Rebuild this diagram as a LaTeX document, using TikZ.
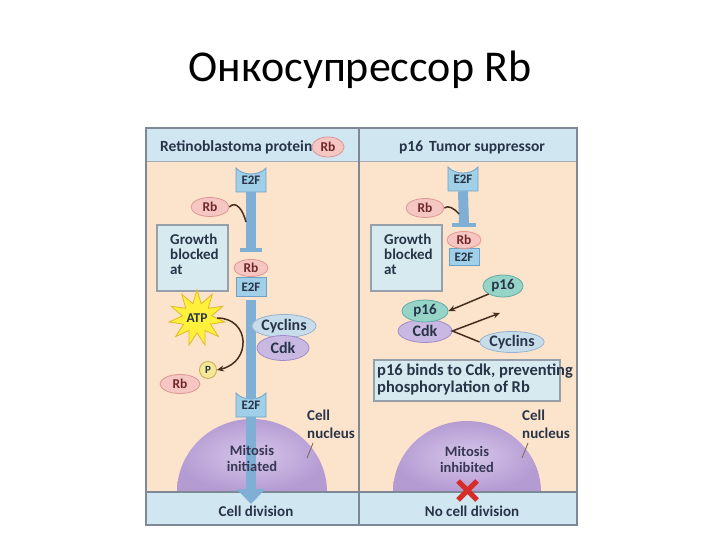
\documentclass[tikz,border=0pt]{standalone}
\usepackage{fontspec}
\setmainfont{Carlito}
\usetikzlibrary{shapes.geometric,arrows.meta,calc}

\definecolor{peach}{RGB}{252,228,204}
\definecolor{bandc}{RGB}{208,230,241}
\definecolor{framec}{RGB}{125,138,150}
\definecolor{e2ffill}{RGB}{160,207,232}
\definecolor{e2fdraw}{RGB}{110,160,200}
\definecolor{barc}{RGB}{128,175,214}
\definecolor{rbfill}{RGB}{246,198,194}
\definecolor{rbdraw}{RGB}{222,150,148}
\definecolor{rbtxt}{RGB}{110,40,45}
\definecolor{cycfill}{RGB}{200,221,236}
\definecolor{cycdraw}{RGB}{150,178,205}
\definecolor{cdkfill}{RGB}{200,184,226}
\definecolor{cdkdraw}{RGB}{160,140,200}
\definecolor{p16fill}{RGB}{150,212,200}
\definecolor{p16draw}{RGB}{100,172,165}
\definecolor{gfill}{RGB}{214,234,239}
\definecolor{gdraw}{RGB}{150,160,170}
\definecolor{txt}{RGB}{40,52,72}
\definecolor{mtxt}{RGB}{55,55,85}
\definecolor{connc}{RGB}{70,45,30}
\definecolor{nucin}{RGB}{214,198,234}
\definecolor{nucout}{RGB}{180,155,210}
\definecolor{atpfill}{RGB}{255,240,60}
\definecolor{atpdraw}{RGB}{225,185,40}
\definecolor{pfill}{RGB}{245,232,150}
\definecolor{pdraw}{RGB}{200,170,80}
\definecolor{redx}{RGB}{215,45,40}

\newcommand\myfs[2]{\fontsize{#1}{#2}\selectfont}
% E2F cup: name, x, y (text centre)
\newcommand\Ecup[3]{%
  \path[fill=e2ffill, draw=e2fdraw, line width=0.8pt]
    (#2-15,#3-14) -- (#2-15,#3+10) -- (#2+15,#3+10) -- (#2+15,#3-14)
    .. controls (#2+8,#3-6) and (#2-8,#3-6) .. (#2-15,#3-14) -- cycle;
  \node[e2ftxt, minimum width=30, minimum height=24] (#1) at (#2,#3-2) {\raisebox{-2pt}{E2F}};}

\begin{document}
\begin{tikzpicture}[x=1pt,y=-1pt,
  lbl/.style={font=\bfseries\myfs{15}{15}, text=txt, inner sep=0pt},
  e2ftxt/.style={inner sep=0pt, font=\bfseries\myfs{13}{13}, text=txt},
  e2frect/.style={rectangle, fill=e2ffill, draw=e2fdraw, line width=0.8pt, inner sep=0pt, font=\bfseries\myfs{13}{13}, text=txt},
  rbell/.style={ellipse, fill=rbfill, draw=rbdraw, line width=0.8pt, minimum width=38, minimum height=19, inner sep=0pt, font=\bfseries\myfs{13.5}{13.5}, text=rbtxt},
  cycell/.style={ellipse, fill=cycfill, draw=cycdraw, line width=0.8pt, inner sep=0pt, font=\bfseries\myfs{16}{16}, text=txt},
  cdkell/.style={ellipse, fill=cdkfill, draw=cdkdraw, line width=0.8pt, inner sep=0pt, font=\bfseries\myfs{16}{16}, text=txt},
  p16ell/.style={ellipse, fill=p16fill, draw=p16draw, line width=0.8pt, inner sep=0pt, font=\bfseries\myfs{15}{15}, text=txt},
  gbox/.style={rectangle, fill=gfill, draw=gdraw, line width=1.2pt, inner sep=0pt},
  barline/.style={draw=barc, line width=10pt},
  tbarline/.style={draw=barc, line width=4pt},
  connline/.style={draw=connc, line width=1.5pt},
  ptrline/.style={draw=connc!70, line width=0.9pt},
  mitos/.style={align=center, inner sep=0pt, font=\bfseries\myfs{14.5}{16}, text=mtxt},
]
\useasboundingbox (0,0) rectangle (720,540);
\fill[white] (0,0) rectangle (720,540);

% title
\node[font=\myfs{44}{50}, text=black, inner sep=0pt] (title) at (360,70) {Онкосупрессор Rb};

% panel backgrounds
\fill[peach] (146,128) rectangle (577,525);
\shade[inner color=nucin, outer color=nucout] (177,492) arc[start angle=180, end angle=0, x radius=75pt, y radius=73pt] -- cycle;
\shade[inner color=nucin, outer color=nucout] (393,492) arc[start angle=180, end angle=0, x radius=74pt, y radius=71pt] -- cycle;
\fill[bandc] (146,128) rectangle (577,162);
\draw[framec!70, line width=1pt] (146,162) -- (577,162);
\fill[bandc] (146,492) rectangle (577,525);
\draw[framec, line width=1.5pt] (146,492) -- (577,492);
\draw[framec, line width=2pt] (359,128) -- (359,525);
\draw[framec, line width=1.5pt] (146,128) rectangle (577,525);

% header
\node[lbl, anchor=west, font=\bfseries\myfs{15.5}{15.5}] (hdrL) at (160,147) {Retinoblastoma protein};
\node[rbell, minimum width=32, minimum height=20] (hdrRb) at (328,147) {Rb};
\node[lbl, font=\bfseries\myfs{15.5}{15.5}] (hdrR) at (472,147) {p16\hspace{6pt}Tumor suppressor};

% ---------- left column ----------
\Ecup{e2fA}{251}{182}
\coordinate (tA) at (251,250);
\draw[barline] (e2fA.south) -- ([yshift=1pt]tA);
\draw[tbarline] ([xshift=-11pt]tA) -- ([xshift=11pt]tA);
\node[rbell] (rbL) at (210,207) {Rb};
\coordinate (hitL) at (246,222);
\draw[connline] (rbL.east) .. controls (236,200) and (243,210) .. (hitL);

\node[gbox, minimum width=71, minimum height=66] (gbL) at (192.5,258) {};
\node[lbl, anchor=north west, align=left] (gbLt) at (170,234) {Growth\\blocked\\at};

\node[e2frect, minimum width=30, minimum height=19] (e2fB) at (251,287) {E2F};
\node[rbell, minimum width=34, minimum height=17] (rbB) at (251,268) {Rb};

\Ecup{e2fC}{251}{407}
\draw[barline] ([yshift=-3pt]e2fB.south) -- ([yshift=-6pt]e2fC.north);

\node[cycell, minimum width=52, minimum height=23] (cycL) at (284,326) {Cyclins};
\node[cdkell, minimum width=52, minimum height=25] (cdkL) at (283,348) {Cdk};

\node[star, star points=11, star point ratio=1.9, minimum size=56, fill=atpfill, draw=atpdraw, line width=0.8pt, inner sep=0pt, font=\bfseries\myfs{13.5}{13.5}, text=txt] (atp) at (197,318) {ATP};
\node[rbell, minimum width=40, minimum height=19] (rbP) at (180,384) {Rb};
\node[circle, fill=pfill, draw=pdraw, line width=0.8pt, minimum size=17, inner sep=0pt, font=\bfseries\myfs{11}{11}, text=txt] (pc) at (208,370) {P};
\draw[connline, -{Stealth[length=7pt,width=6pt]}] (atp.east) .. controls (250,318) and (252,362) .. (pc.east);

\coordinate (divL) at (251,504);
\draw[barline, -{Triangle[width=28pt,length=15pt]}] (e2fC.south) -- (divL);

\node[mitos] (mitL) at (252,458) {Mitosis\\initiated};
\node[lbl, anchor=north west, align=left, font=\bfseries\myfs{15}{18}] (cnL) at (307,410) {Cell\\nucleus};
\coordinate (ptrL) at (307,458);
\draw[ptrline] ([shift={(6pt,-4pt)}]cnL.south west) -- (ptrL);
\node[lbl] (cdL) at (256,511) {Cell division};

% ---------- right column ----------
\Ecup{e2fD}{463}{181}
\coordinate (tD) at (464,225);
\draw[barline] (e2fD.south) -- ([yshift=1pt]tD);
\draw[tbarline] ([xshift=-12pt]tD) -- ([xshift=12pt]tD);
\node[rbell] (rbR) at (425,208) {Rb};
\coordinate (hitR) at (459,214);
\draw[connline] (rbR.east) .. controls (448,205) and (454,208) .. (hitR);

\node[gbox, minimum width=71, minimum height=66] (gbR) at (406.5,258) {};
\node[lbl, anchor=north west, align=left] (gbRt) at (384,234) {Growth\\blocked\\at};

\node[e2frect, minimum width=30, minimum height=17] (e2fE) at (464,257) {E2F};
\node[rbell, minimum width=34, minimum height=17] (rbE) at (464,240) {Rb};

\node[p16ell, minimum width=40, minimum height=22] (p16R) at (503,286) {p16};
\node[cdkell, minimum width=54, minimum height=23] (cdkR) at (425,331) {Cdk};
\node[p16ell, minimum width=46, minimum height=22] (p16L) at (425,311) {p16};
\node[cycell, minimum width=56, minimum height=21] (cycR) at (512,342) {Cyclins};
\draw[connline, -{Stealth[length=7pt,width=6pt]}] (p16R.south west) -- (p16L.east);
\coordinate (bounce) at (500,313);
\draw[connline, -{Stealth[length=7pt,width=6pt]}] (cycR.west) -- (cdkR.east) -- (bounce);

\node[gbox, minimum width=186, minimum height=41] (note) at (467,380.5) {};
\node[lbl, anchor=north west, align=left, font=\bfseries\myfs{16.5}{17}] (notet) at (377,364) {p16 binds to Cdk, preventing\\phosphorylation of Rb};

\node[mitos] (mitR) at (467,459) {Mitosis\\inhibited};
\node[lbl, anchor=north west, align=left, font=\bfseries\myfs{15}{18}] (cnR) at (522,410) {Cell\\nucleus};
\coordinate (ptrR) at (522,458);
\draw[ptrline] ([shift={(6pt,-4pt)}]cnR.south west) -- (ptrR);
\draw[redx, line width=5pt] (458,481) -- (477,500) (477,481) -- (458,500);
\node[lbl] (cdR) at (472,511) {No cell division};
\end{tikzpicture}
\end{document}
